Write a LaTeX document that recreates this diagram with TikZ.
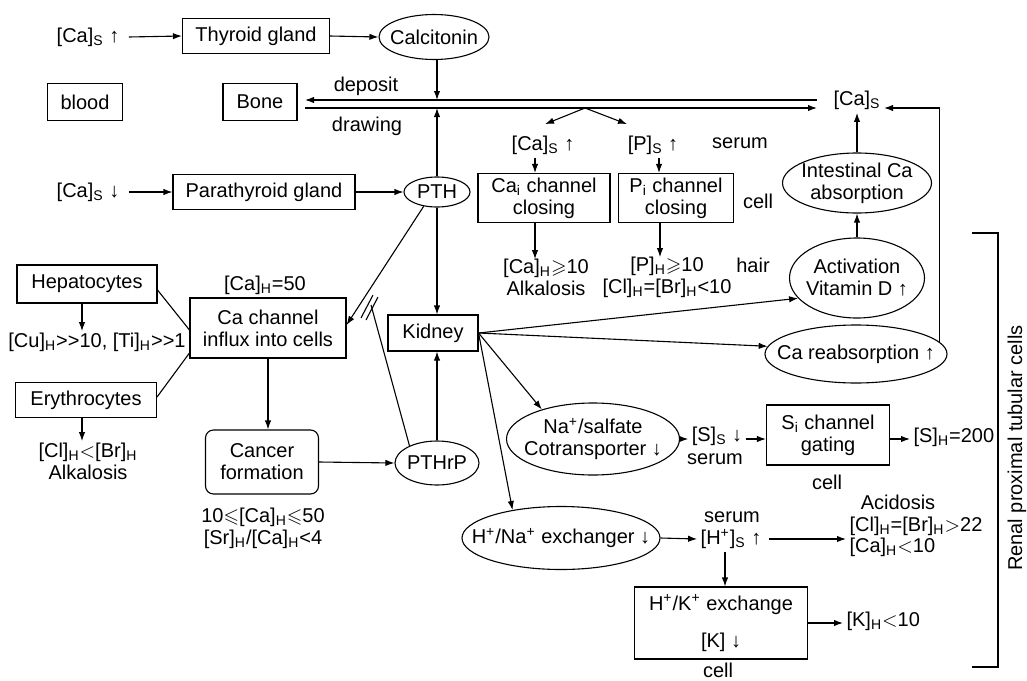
\documentclass[tikz,border=0pt]{standalone}
\usepackage{fontspec}
\setmainfont{Liberation Sans}
\usepackage{amssymb}
\usetikzlibrary{shapes, arrows.meta}
\newcommand{\subS}{\textsubscript{S}}
\newcommand{\subH}{\textsubscript{H}}
\newcommand{\uarr}{↑}
\newcommand{\darr}{↓}

\begin{document}
\begin{tikzpicture}[x=0.5pt, y=-0.5pt,
>={Latex[length=4.5pt,width=3.2pt]}, line width=0.55pt,
every node/.style={font=\fontsize{10}{11}\selectfont, inner sep=1.5pt},
box/.style={rectangle, draw, inner sep=0pt, align=center},
rbox/.style={rectangle, rounded corners=4pt, draw, inner sep=0pt, align=center},
ell/.style={ellipse, draw, inner sep=0pt, label={[align=center]center:#1}},
txt/.style={align=center},
]
\useasboundingbox (0,0) rectangle (1027,680);

%Nodes
\node                                                  (CaSup)   at (88,37)   {[Ca]\subS\ \uarr};
\node[box, minimum width=73.5pt, minimum height=17.5pt] (thyroid) at (256,36)  {Thyroid gland};
\node[ell={Calcitonin}, minimum width=55pt, minimum height=22.5pt] (calc) at (434,37) {};
\node[box, minimum width=37.5pt, minimum height=18.5pt] (blood)   at (85,102)  {blood};
\node[box, minimum width=37pt, minimum height=18.5pt]   (bone)    at (260,102) {Bone};
\node                                                  (deposit) at (366,86)  {deposit};
\node                                                  (drawing) at (367,126) {drawing};
\node                                                  (CaSr)    at (857,100) {[Ca]\subS};
\node                                                  (CaSdown) at (88,192)  {[Ca]\subS\ \darr};
\node[box, minimum width=91pt, minimum height=17.5pt]   (parathy) at (264,192) {Parathyroid gland};
\node[ell={PTH}, minimum width=33pt, minimum height=15pt] (PTH)   at (437,192) {};

\node                                                  (CaSu)    at (543,145) {[Ca]\subS\ \uarr};
\node                                                  (PSu)     at (653,145) {[P]\subS\ \uarr};
\node                                                  (serumA)  at (740,143) {serum};
\node[box, minimum width=66pt, minimum height=24.5pt]   (Cai)     at (544,198) {Ca\textsubscript{i} channel\\closing};
\node[box, minimum width=57.5pt, minimum height=24.5pt] (Pi)      at (676,198) {P\textsubscript{i} channel\\closing};
\node                                                  (cellA)   at (758,201) {cell};
\node[txt]                                             (CaH10)   at (546,277) {[Ca]\subH$\geqslant$10\\Alkalosis};
\node[txt]                                             (PH10)    at (667,277) {[P]\subH$\geqslant$10\\{}[Cl]\subH=[Br]\subH<10};
\node                                                  (hair)    at (753,265) {hair};

\node[ell={Intestinal Ca\\absorption}, minimum width=74.5pt, minimum height=30pt] (intes) at (857,183) {};
\node[ell={Activation\\Vitamin D \uarr}, minimum width=67.5pt, minimum height=40pt] (actD) at (857,278) {};
\node[ell={Ca reabsorption \uarr}, minimum width=91pt, minimum height=29pt] (careab) at (856,354) {};

\node[box, minimum width=70pt, minimum height=19pt]     (hep)     at (87,284)  {Hepatocytes};
\node                                                  (CuTi)    at (97,342)  {[Cu]\subH>{}>10, [Ti]\subH>{}>1};
\node[box, minimum width=70.5pt, minimum height=17.5pt] (ery)     at (86,400)  {Erythrocytes};
\node[txt]                                             (ClBr)    at (88,461)  {[Cl]\subH$<$[Br]\subH\\Alkalosis};
\node                                                  (CaH50)   at (265,285) {[Ca]\subH=50};
\node[box, minimum width=78pt, minimum height=30pt]     (cachan)  at (268,328) {Ca channel\\influx into cells};
\node[rbox, minimum width=56.5pt, minimum height=32pt]  (cancer)  at (262,462) {Cancer\\formation};
\node[txt]                                             (cancerH) at (263,528) {10$\leqslant$[Ca]\subH$\leqslant$50\\{}[Sr]\subH/[Ca]\subH<4};
\node[ell={PTHrP}, minimum width=42pt, minimum height=22pt] (PTHrP) at (437,463) {};
\node[box, minimum width=45pt, minimum height=18pt]     (kidney)  at (433,333) {Kidney};

\node[ell={Na\textsuperscript{+}/salfate\\Cotransporter \darr}, minimum width=86.5pt, minimum height=36pt] (NaS) at (593,439) {};
\node                                                  (SS)      at (717,436) {[S]\subS\ \darr};
\node                                                  (serumB)  at (715,459) {serum};
\node[box, minimum width=61.5pt, minimum height=30pt]   (Si)      at (828,435) {S\textsubscript{i} channel\\gating};
\node                                                  (cellB)   at (827,482) {cell};
\node[anchor=west]                                     (SH)      at (910,437) {[S]\subH=200};

\node[ell={H\textsuperscript{+}/Na\textsuperscript{+} exchanger \darr}, minimum width=99pt, minimum height=31.5pt] (HNa) at (561,538) {};
\node                                                  (HS)      at (731,539) {[H\textsuperscript{+}]\subS\ \uarr};
\node                                                  (serumC)  at (732,517) {serum};
\node                                                  (acid)    at (898,502) {Acidosis};
\node[anchor=west]                                     (ClBr22)  at (846,526) {[Cl]\subH=[Br]\subH$>$22};
\node[anchor=west]                                     (CaH10b)  at (846,547) {[Ca]\subH$<$10};
\node[box, minimum width=86.5pt, minimum height=36pt]   (HK)      at (721,623) {H\textsuperscript{+}/K\textsuperscript{+} exchange\\[7.5pt]{[K] \darr}};
\node                                                  (cellC)   at (718,670) {cell};
\node[anchor=west]                                     (KH)      at (843,621) {[K]\subH$<$10};

\node[rotate=90]                                       (renal)   at (1017,448) {Renal proximal tubular cells};

\coordinate (dltop) at (305,100);
\coordinate (drtop) at (817,100);
\coordinate (dlbot) at (305,108);
\coordinate (drbot) at (817,108);
\coordinate (split) at (585,108);
\coordinate (brk)   at (371,305);

%Lines
\draw[->] ([xshift=3pt]CaSup.east) -- (thyroid.west);
\draw[->] (thyroid.east) -- (calc.west);
\draw[->] (drtop) -- (dltop);
\draw[->] (dlbot) -- (drbot);
\draw[->] (PTH.north |- calc.south) -- (PTH.north |- dltop);
\draw[->] (PTH.north) -- (PTH.north |- dlbot);
\draw[->] (split) -- ([xshift=1pt,yshift=4pt]CaSu.north);
\draw[->] (split) -- ([xshift=-13pt,yshift=4pt]PSu.north);
\draw[->] ([xshift=-4pt]CaSu.south) -- ([xshift=-4pt]CaSu.south |- Cai.north);
\draw[->] ([xshift=3pt]PSu.south) -- ([xshift=3pt]PSu.south |- Pi.north);
\draw[->] ([xshift=-4.5pt]Cai.south) -- ([xshift=-4.5pt,yshift=-2pt]Cai.south |- CaH10.north);
\draw[->] ([xshift=-8pt]Pi.south) -- ([xshift=-8pt,yshift=-2pt]Pi.south |- PH10.north);

\draw[->] ([xshift=3pt]CaSdown.east) -- (parathy.west);
\draw[->] (parathy.east) -- (PTH.west);
\draw[->] (PTH.south) -- (PTH.south |- kidney.north);
\draw[->] (PTH.227) -- ([yshift=1.5pt]cachan.east);

\draw (hep.east) ++(0,-3pt) -- ([yshift=-1pt]cachan.west);
\draw ([yshift=1.5pt]ery.east) -- ([yshift=-12.5pt]cachan.west);
\draw[->] ([xshift=-2.5pt]hep.south) -- ([xshift=-2.5pt,yshift=-1pt]hep.south |- CuTi.north);
\draw[->] ([xshift=-2pt]ery.south) -- ([xshift=-2pt,yshift=-1pt]ery.south |- ClBr.north);
\draw[->] (cachan.south) -- (cachan.south |- cancer.north);
\draw[->] (cancer.east) -- (PTHrP.west);
\draw[->] (PTHrP.north) -- (PTHrP.north |- kidney.south);
\draw (PTHrP.148) -- (brk);
\draw (361,318) -- (373,295);
\draw (366,320) -- (378,297);

\draw[->] (kidney.east) -- (actD.199);
\draw[->] (kidney.east) -- (careab.175);
\draw[->] (kidney.east) -- (NaS.150);
\draw[->] (kidney.east) -- (HNa.150);

\draw[->] (actD.north) -- (intes.south);
\draw[->] (intes.north) -- (CaSr.south);
\draw[->] (careab.8) |- ([yshift=-4pt]CaSr.east);

\draw[->] (NaS.east) -- (SS.west |- NaS.east);
\draw[->] (SS.east |- NaS.east) -- (Si.west |- NaS.east);
\draw[->] (Si.east |- NaS.east) -- (SH.west |- NaS.east);
\draw[->] (HNa.east) -- (HS.west);
\draw[->] ([xshift=2pt]HS.east) -- (HS.east -| ClBr22.west);
\draw[->] ([xshift=-3pt]HS.south) -- ([xshift=-3pt]HS.south |- HK.north);
\draw[->] (HK.east) -- (HK.east -| KH.west);

\draw (972,233) -- (998,233) -- (998,667) -- (972,667);
\end{tikzpicture}
\end{document}
